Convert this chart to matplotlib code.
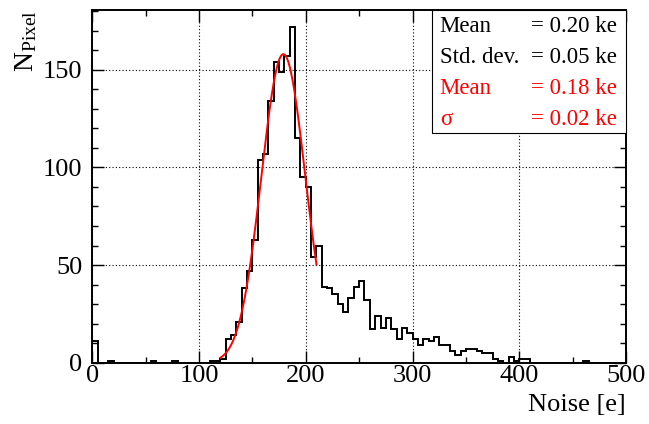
import numpy as np
import matplotlib
matplotlib.use('Agg')
matplotlib.rcParams['font.family'] = ['Liberation Serif', 'DejaVu Serif']
matplotlib.rcParams['mathtext.fontset'] = 'custom'
matplotlib.rcParams['mathtext.rm'] = 'Liberation Serif'
matplotlib.rcParams['mathtext.it'] = 'Liberation Serif:italic'
import matplotlib.pyplot as plt
from matplotlib.patches import Rectangle
from matplotlib.ticker import MultipleLocator

# ── Histogram data: pixel noise, 5 e bins from 0 to 500 ─────────────────────
X_MIN, X_MAX = 0, 500
counts = [
    11, 0, 0, 1, 0, 0, 0, 0, 0, 0,          # 0 - 50
    0, 1, 0, 0, 0, 1, 0, 0, 0, 0,           # 50 - 100
    0, 0, 1, 1, 2, 12, 14, 21, 38, 47,      # 100 - 150
    63, 104, 107, 134, 154, 149, 157, 172, 115, 95,   # 150 - 200
    90, 54, 60, 39, 38, 35, 30, 26, 33, 39,  # 200 - 250
    42, 32, 17, 24, 18, 23, 17, 12, 18, 15,  # 250 - 300
    12, 9, 12, 11, 13, 9, 9, 6, 4, 6,        # 300 - 350
    7, 7, 6, 5, 5, 2, 1, 0, 3, 1,            # 350 - 400
    2, 2, 0, 0, 0, 0, 0, 0, 0, 0,            # 400 - 450
    0, 0, 1, 0, 0, 0, 0, 0, 0, 0,            # 450 - 500
]
edges = np.linspace(X_MIN, X_MAX, len(counts) + 1)

# Gaussian fit parameters (amplitude, mean, sigma) and fit range
FIT_AMP = 158.0
FIT_MEAN = 179.0
FIT_SIGMA = 20.5
FIT_RANGE = (120, 210)

stat_labels = ['Mean', 'Std. dev.', 'Mean', '\u03c3']
stat_values = ['= 0.20 ke', '= 0.05 ke', '= 0.18 ke', '= 0.02 ke']
stat_colors = ['black', 'black', 'red', 'red']

fig = plt.figure(figsize=(6.49, 4.24), dpi=100)
ax = fig.add_axes([0.1422, 0.1446, 0.8224, 0.8318])

ax.stairs(counts, edges, color='black', linewidth=1.4, zorder=3)

xf = np.linspace(FIT_RANGE[0], FIT_RANGE[1], 300)
yf = FIT_AMP * np.exp(-0.5 * ((xf - FIT_MEAN) / FIT_SIGMA) ** 2)
ax.plot(xf, yf, color='red', linewidth=1.4, zorder=4)

ax.set_xlim(X_MIN, X_MAX)
ax.set_ylim(0, 180.6)

ax.xaxis.set_major_locator(MultipleLocator(100))
ax.xaxis.set_minor_locator(MultipleLocator(50))
ax.yaxis.set_major_locator(MultipleLocator(50))
ax.yaxis.set_minor_locator(MultipleLocator(10))
ax.tick_params(which='both', direction='in', top=True, right=True, width=1.0)
ax.tick_params(which='major', length=8.5)
ax.tick_params(which='minor', length=4.2)
ax.tick_params(axis='x', which='major', labelsize=19, pad=2)
ax.tick_params(axis='y', which='major', labelsize=19, pad=7)

ax.grid(True, which='major', color='black', linestyle=(0, (1, 2)), linewidth=0.8)
ax.set_axisbelow(True)
for s in ax.spines.values():
    s.set_linewidth(1.4)

ax.set_xlabel('Noise [e]', fontsize=19, loc='right')
ax.xaxis.set_label_coords(1.0, -0.09)
ax.set_ylabel(r'$\mathrm{N}_{\mathrm{Pixel}}$', fontsize=20, loc='top')
ax.yaxis.set_label_coords(-0.10, 1.0)

# Stats box
box_x0, box_y0 = 0.6356, 0.652
ax.add_patch(Rectangle((box_x0, box_y0), 1 - box_x0, 1 - box_y0, transform=ax.transAxes,
                       facecolor='white', edgecolor='black', linewidth=0.8, zorder=5,
                       clip_on=False))
rows_y = [0.9546, 0.8658, 0.7779, 0.6908]
for lab, val, col, y in zip(stat_labels, stat_values, stat_colors, rows_y):
    ax.text(0.651, y, lab, transform=ax.transAxes, fontsize=16.5, color=col,
            ha='left', va='center', zorder=6)
    ax.text(0.9826, y, val, transform=ax.transAxes, fontsize=16.5, color=col,
            ha='right', va='center', zorder=6)

fig.savefig('out.png', dpi=100, facecolor='white')
